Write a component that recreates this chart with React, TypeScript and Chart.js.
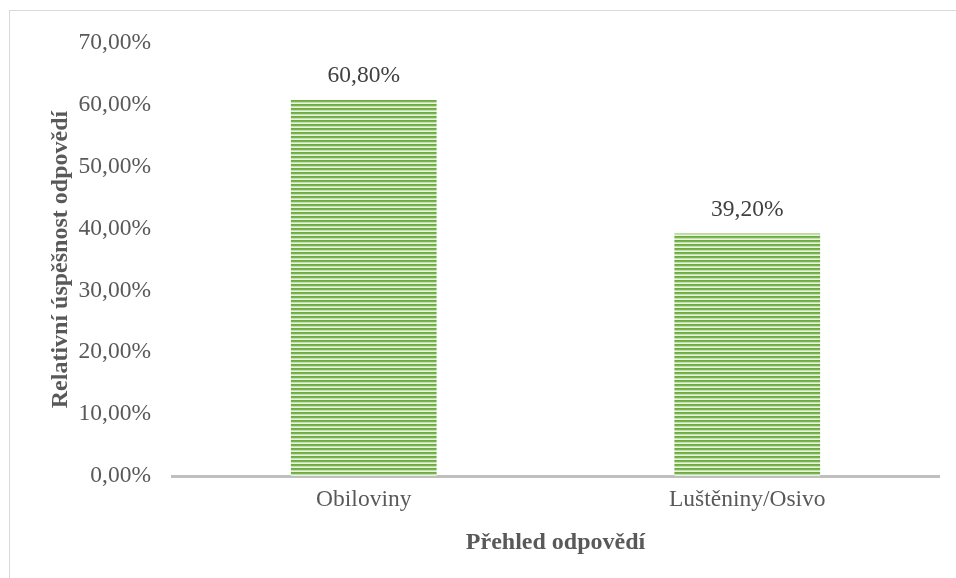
import React, { useEffect, useRef } from "react";
import { Chart, registerables } from "chart.js";

Chart.register(...registerables);

const categories = ["Obiloviny", "Luštěniny/Osivo"];
const values = [60.8, 39.2];
const yMin = 0;
const yMax = 70;
const yStep = 10;
const xTitle = "Přehled odpovědí";
const yTitle = "Relativní úspěšnost odpovědí";

const FONT = "'Liberation Serif', 'Times New Roman', serif";
const TEXT = "#595959";
const SIZE = 23.5;
const TITLE_SIZE = 24;

const fmt = (v: number) => v.toFixed(2).replace(".", ",") + "%";

function makePattern(): CanvasPattern | string {
  const c = document.createElement("canvas");
  c.width = 4;
  c.height = 4;
  const ctx = c.getContext("2d");
  if (!ctx) return "#70ad47";
  const rows = ["#6cab42", "#7ab54f", "#c2dfad", "#e8f3e0"];
  rows.forEach((col, i) => {
    ctx.fillStyle = col;
    ctx.fillRect(0, i, 4, 1);
  });
  return ctx.createPattern(c, "repeat") || "#70ad47";
}

const labelPlugin = {
  id: "barLabels",
  afterDatasetsDraw(chart: any) {
    const ctx = chart.ctx;
    const meta = chart.getDatasetMeta(0);
    ctx.save();
    ctx.font = `${SIZE}px ${FONT}`;
    ctx.fillStyle = "#404040";
    ctx.textAlign = "center";
    ctx.textBaseline = "middle";
    meta.data.forEach((bar: any, i: number) => {
      ctx.fillText(fmt(values[i]), bar.x, bar.y - 24);
    });
    ctx.restore();
  },
};

export default function App() {
  const ref = useRef<HTMLCanvasElement>(null);
  useEffect(() => {
    if (!ref.current) return;
    const pattern = makePattern();
    const chart = new Chart(ref.current, {
      type: "bar",
      data: {
        labels: categories,
        datasets: [
          {
            data: values,
            backgroundColor: pattern as any,
            borderWidth: 0,
            barPercentage: 0.38,
            categoryPercentage: 1,
          },
        ],
      },
      options: {
        animation: false,
        responsive: false,
        maintainAspectRatio: false,
        layout: { padding: { left: 0, right: 9, top: 32, bottom: 0 } },
        plugins: {
          legend: { display: false },
          tooltip: { enabled: false },
        },
        scales: {
          x: {
            grid: { display: false, drawTicks: false },
            border: { display: true, color: "#bfbfbf", width: 3 },
            ticks: {
              color: TEXT,
              font: { family: FONT, size: SIZE },
              padding: 10,
            },
            title: {
              display: true,
              text: xTitle,
              color: TEXT,
              font: { family: FONT, size: TITLE_SIZE, weight: "bold" },
              padding: { top: 0, bottom: 13 },
            },
            afterFit: (s: any) => {
              s.height = 94;
            },
          },
          y: {
            min: yMin,
            max: yMax,
            grid: { display: false, drawTicks: false },
            border: { display: false },
            ticks: {
              stepSize: yStep,
              color: TEXT,
              font: { family: FONT, size: SIZE },
              padding: 21,
              callback: (v: any) => fmt(Number(v)),
            },
            title: {
              display: true,
              text: yTitle,
              color: TEXT,
              font: { family: FONT, size: TITLE_SIZE, weight: "bold" },
              padding: { top: 38, bottom: 0 },
            },
            afterFit: (s: any) => {
              s.width = 164;
            },
          },
        },
      },
      plugins: [labelPlugin],
    });
    return () => chart.destroy();
  }, []);

  return (
    <div style={{ position: "relative", width: 940, height: 562 }}>
      <div
        style={{
          position: "fixed",
          left: 9,
          top: 10,
          right: 0,
          bottom: 0,
          borderLeft: "1px solid #d9d9d9",
          borderTop: "1px solid #d9d9d9",
          pointerEvents: "none",
        }}
      />
      <canvas
        ref={ref}
        width={940}
        height={562}
        style={{ position: "absolute", left: 0, top: 0, width: 940, height: 562 }}
      />
    </div>
  );
}
